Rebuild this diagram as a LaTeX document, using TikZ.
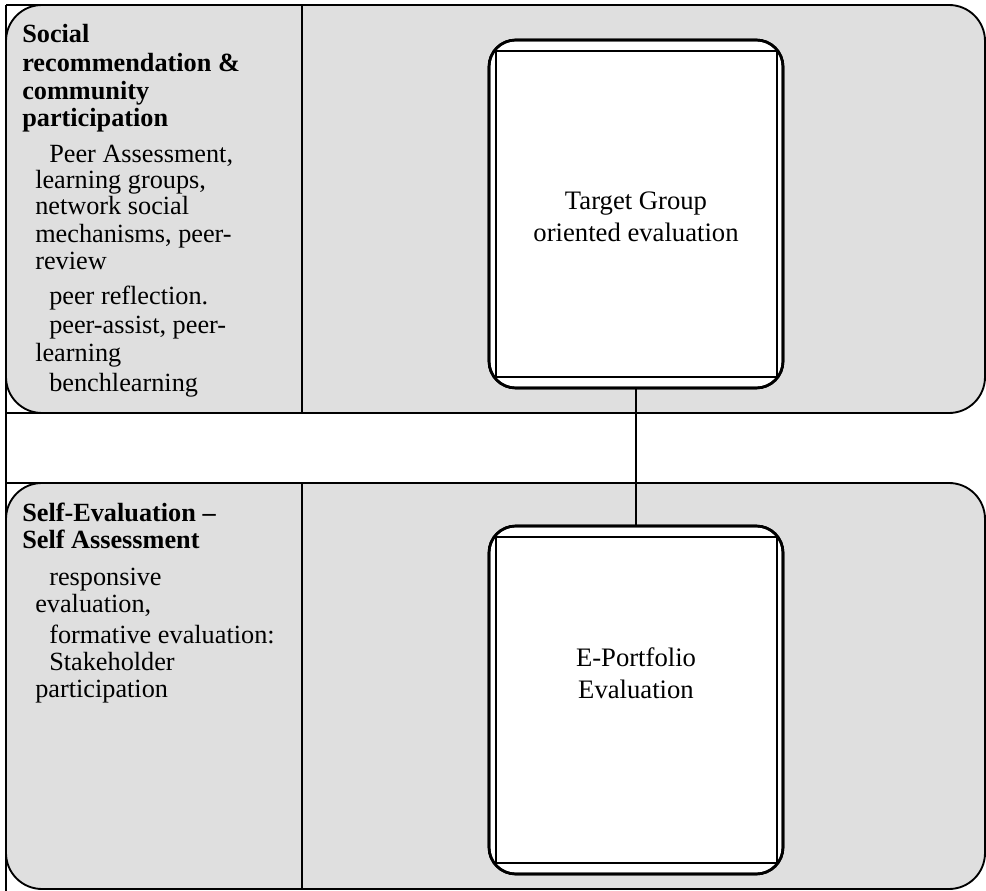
\documentclass[tikz,border=0pt]{standalone}
\usepackage{fontspec}
\setmainfont{Liberation Serif}
\definecolor{lanegray}{RGB}{223,223,223}
\begin{document}
\begin{tikzpicture}[x=0.75pt,y=-0.75pt,
  lane/.style={draw=black, fill=lanegray, line width=1.4pt, rounded corners=27pt},
  frameline/.style={draw=black, line width=1.5pt},
  divider/.style={draw=black, line width=1.5pt},
  procbox/.style={draw=black, fill=white, line width=2pt, rounded corners=20pt,
    minimum width=220.5pt, minimum height=261pt, inner sep=0pt},
  innerline/.style={draw=black, line width=1.1pt},
  conn/.style={draw=black, line width=1.6pt},
  body/.style={anchor=base west, inner sep=0pt, font=\fontsize{19.7}{22}\selectfont},
  head/.style={anchor=base west, inner sep=0pt, font=\fontsize{19.7}{22}\selectfont\bfseries},
  boxtext/.style={anchor=base, inner sep=0pt, font=\fontsize{20}{24}\selectfont}]
\useasboundingbox (0,0) rectangle (986,891);

% lanes
\path[lane] (6,5) rectangle (985,413);
\path[lane] (6,483) rectangle (985,889);

% frame lines
\draw[frameline] (6,5) -- (6,891);
\draw[frameline] (6,5) -- (950,5);
\draw[frameline] (6,413) -- (950,413);
\draw[frameline] (6,483) -- (950,483);

% column dividers
\draw[divider] (302,5) -- (302,413);
\draw[divider] (302,483) -- (302,889);

% process boxes
\node[procbox] (tg) at (636,214) {};
\node[procbox] (ep) at (636,700) {};
\begin{scope}
  \clip[rounded corners=20pt] (489,40) rectangle (783,388);
  \draw[innerline] (480,51) -- (800,51);
  \draw[innerline] (480,377) -- (800,377);
  \draw[innerline] (496,30) -- (496,400);
  \draw[innerline] (777,30) -- (777,400);
\end{scope}
\begin{scope}
  \clip[rounded corners=20pt] (489,526) rectangle (783,874);
  \draw[innerline] (480,537) -- (800,537);
  \draw[innerline] (480,863) -- (800,863);
  \draw[innerline] (496,515) -- (496,885);
  \draw[innerline] (777,515) -- (777,885);
\end{scope}
\draw[draw=black, line width=2pt, rounded corners=20pt] (489,40) rectangle (783,388);
\draw[draw=black, line width=2pt, rounded corners=20pt] (489,526) rectangle (783,874);

% connector
\draw[conn] (tg.south) -- (ep.north);

% box texts
\node[boxtext] (tg1) at (636,210) {Target Group};
\node[boxtext] (tg2) at (636,242) {oriented evaluation};
\node[boxtext] (ep1) at (636,666) {E-Portfolio};
\node[boxtext] (ep2) at (636,698) {Evaluation};

% top lane text
\node[head] (h1) at (22,42.7) {Social};
\node[head] (h2) at (22,71.7) {recommendation \&};
\node[head] (h3) at (22,100) {community};
\node[head] (h4) at (22,127) {participation};
\node[body] (t1) at (49,163) {Peer Assessment,};
\node[body] (t2) at (35,189) {learning groups,};
\node[body] (t3) at (35,215) {network social};
\node[body] (t4) at (35,243) {mechanisms, peer-};
\node[body] (t5) at (35,270) {review};
\node[body] (t6) at (49,305) {peer reflection.};
\node[body] (t7) at (49,334) {peer-assist, peer-};
\node[body] (t8) at (35,362) {learning};
\node[body] (t9) at (49,392) {benchlearning};

% bottom lane text
\node[head] (s1) at (22,521.7) {Self-Evaluation \textendash};
\node[head] (s2) at (22,548.5) {Self Assessment};
\node[body] (b1) at (49,585) {responsive};
\node[body] (b2) at (35,612) {evaluation,};
\node[body] (b3) at (49,643) {formative evaluation:};
\node[body] (b4) at (49,670) {Stakeholder};
\node[body] (b5) at (35,697) {participation};
\end{tikzpicture}
\end{document}
